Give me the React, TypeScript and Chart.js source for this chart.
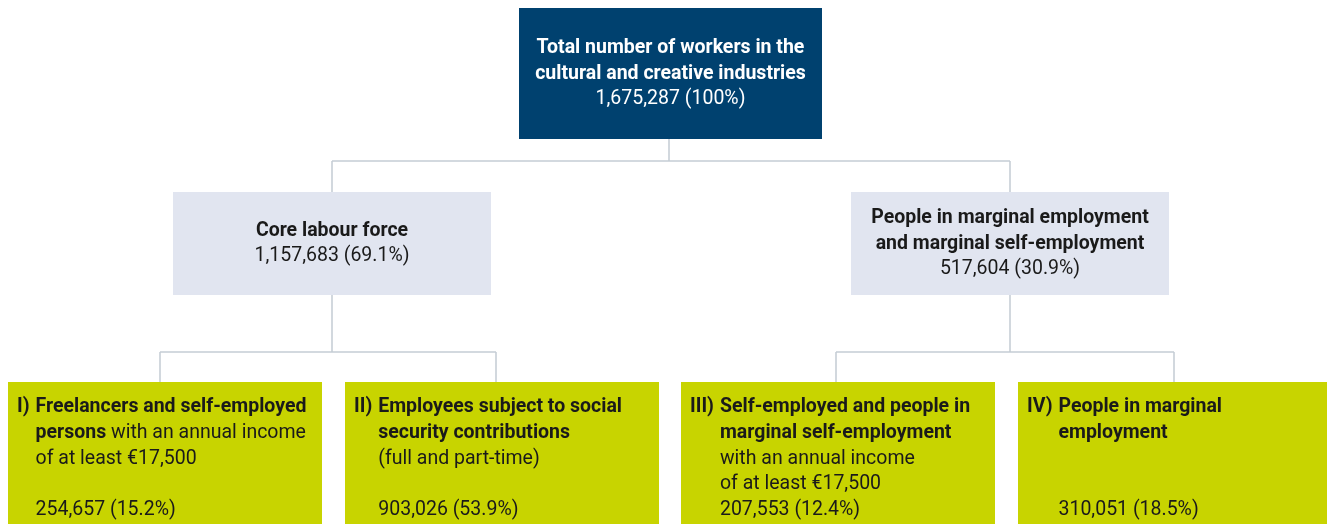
import React, { useEffect, useRef } from "react";
import { Chart, registerables } from "chart.js";

Chart.register(...registerables);

// ---------- data ----------
const totalTitle = ["Total number of workers in the", "cultural and creative industries"];
const totalValue = 1675287;
const totalShare = 100;

const groupTitles = [
  ["Core labour force"],
  ["People in marginal employment", "and marginal self-employment"],
];
const groupValues = [1157683, 517604];
const groupShares = [69.1, 30.9];

const categoryNumerals = ["I)", "II)", "III)", "IV)"];
const categoryTexts = [
  ["**Freelancers and self-employed**", "**persons** with an annual income", "of at least €17,500"],
  ["**Employees subject to social**", "**security contributions**", "(full and part-time)"],
  ["**Self-employed and people in**", "**marginal self-employment**", "with an annual income", "of at least €17,500"],
  ["**People in marginal**", "**employment**"],
];
const categoryValues = [254657, 903026, 207553, 310051];
const categoryShares = [15.2, 53.9, 12.4, 18.5];
const categoryParent = [0, 0, 1, 1];

// ---------- layout (axis units = px of the 1327x524 canvas) ----------
const W = 1327;
const H = 524;
const topBox = { x0: 519, x1: 822, y0: 8, y1: 139, stem: 669 };
const groupBoxes = [
  { x0: 173, x1: 491, stem: 332 },
  { x0: 851, x1: 1169, stem: 1010 },
];
const groupY = [192, 295];
const catBoxes = [
  { x0: 8, x1: 322, stem: 160 },
  { x0: 345, x1: 659, stem: 496 },
  { x0: 681, x1: 995, stem: 836 },
  { x0: 1018, x1: 1332, stem: 1174 },
];
const catY = [382, 540];
const bus1 = 161;
const bus2 = 352;

const C_DARK = "#00416f";
const C_LIGHT = "#e1e5f0";
const C_LIME = "#c8d400";
const C_LINE = "#c4ccd4";
const C_TEXT = "#1a1a1a";
const FONT = "Roboto, 'Noto Sans', sans-serif";
const FS = 19.5;

const fmtVal = (v: number) => v.toLocaleString("en-US");
const fmtShare = (s: number) => (Number.isInteger(s) ? String(s) : s.toFixed(1));
const valueLine = (v: number, s: number) => `${fmtVal(v)} (${fmtShare(s)}%)`;

function rect(x0: number, x1: number, y0: number, y1: number, color: string) {
  return {
    type: "line" as const,
    data: [
      { x: x0, y: y1 },
      { x: x1, y: y1 },
    ],
    fill: { value: y0 },
    backgroundColor: color,
    borderWidth: 0,
    pointRadius: 0,
    tension: 0,
    order: 1,
  };
}
function seg(pts: [number, number][]) {
  return {
    type: "line" as const,
    data: pts.map(([x, y]) => ({ x, y })),
    borderColor: C_LINE,
    borderWidth: 1.5,
    pointRadius: 0,
    fill: false,
    tension: 0,
    order: 2,
  };
}

function parseRich(s: string) {
  const parts: { t: string; b: boolean }[] = [];
  const re = /\*\*(.+?)\*\*/g;
  let last = 0;
  let m;
  while ((m = re.exec(s))) {
    if (m.index > last) parts.push({ t: s.slice(last, m.index), b: false });
    parts.push({ t: m[1], b: true });
    last = m.index + m[0].length;
  }
  if (last < s.length) parts.push({ t: s.slice(last), b: false });
  return parts;
}

const textPlugin = {
  id: "nodeText",
  afterDatasetsDraw(chart: any) {
    const { ctx } = chart;
    const xs = chart.scales.x;
    const ys = chart.scales.y;
    const px = (v: number) => xs.getPixelForValue(v);
    const py = (v: number) => ys.getPixelForValue(v);
    ctx.save();
    ctx.textBaseline = "alphabetic";
    const bold = `bold ${FS}px ${FONT}`;
    const reg = `${FS}px ${FONT}`;
    const LH = 25.5;

    const centred = (lines: { t: string; b: boolean }[], cx: number, cy: number, color: string) => {
      ctx.fillStyle = color;
      ctx.textAlign = "center";
      const first = cy + 5 - ((lines.length - 1) * LH) / 2;
      lines.forEach((l, i) => {
        ctx.font = l.b ? bold : reg;
        ctx.fillText(l.t, px(cx), py(first + i * LH));
      });
    };

    centred(
      [...totalTitle.map((t) => ({ t, b: true })), { t: valueLine(totalValue, totalShare), b: false }],
      (topBox.x0 + topBox.x1) / 2,
      (topBox.y0 + topBox.y1) / 2,
      "#ffffff"
    );
    groupBoxes.forEach((g, i) => {
      centred(
        [...groupTitles[i].map((t) => ({ t, b: true })), { t: valueLine(groupValues[i], groupShares[i]), b: false }],
        (g.x0 + g.x1) / 2,
        (groupY[0] + groupY[1]) / 2,
        C_TEXT
      );
    });

    ctx.textAlign = "left";
    ctx.fillStyle = C_TEXT;
    const LH2 = 25.8;
    catBoxes.forEach((b, i) => {
      const base = catY[0] + 30;
      const nx = b.x0 + 9;
      ctx.font = bold;
      ctx.fillText(categoryNumerals[i], px(nx), py(base));
      const tx = nx + ctx.measureText(categoryNumerals[i]).width + 6;
      categoryTexts[i].forEach((line, li) => {
        let x = px(tx);
        parseRich(line).forEach((p) => {
          ctx.font = p.b ? bold : reg;
          ctx.fillText(p.t, x, py(base + li * LH2));
          x += ctx.measureText(p.t).width;
        });
      });
      ctx.font = reg;
      ctx.fillText(valueLine(categoryValues[i], categoryShares[i]), px(tx), py(base + 4 * LH2));
    });
    ctx.restore();
  },
};

export default function App() {
  const ref = useRef<HTMLCanvasElement>(null);
  useEffect(() => {
    document.body.style.margin = "0";
    const datasets: any[] = [];
    // connectors
    datasets.push(seg([[topBox.stem, topBox.y1], [topBox.stem, bus1]]));
    datasets.push(seg([[groupBoxes[0].stem, bus1], [groupBoxes[1].stem, bus1]]));
    groupBoxes.forEach((g, gi) => {
      datasets.push(seg([[g.stem, bus1], [g.stem, groupY[0]]]));
      datasets.push(seg([[g.stem, groupY[1]], [g.stem, bus2]]));
      const kids = catBoxes.filter((_, ci) => categoryParent[ci] === gi);
      datasets.push(seg([[kids[0].stem, bus2], [kids[kids.length - 1].stem, bus2]]));
      kids.forEach((k) => datasets.push(seg([[k.stem, bus2], [k.stem, catY[0]]])));
    });
    // boxes
    datasets.push(rect(topBox.x0, topBox.x1, topBox.y0, topBox.y1, C_DARK));
    groupBoxes.forEach((g) => datasets.push(rect(g.x0, g.x1, groupY[0], groupY[1], C_LIGHT)));
    catBoxes.forEach((c) => datasets.push(rect(c.x0, c.x1, catY[0], catY[1], C_LIME)));

    const chart = new Chart(ref.current!, {
      type: "line",
      data: { datasets },
      options: {
        animation: false,
        responsive: false,
        events: [],
        layout: { padding: 0 },
        plugins: { legend: { display: false }, tooltip: { enabled: false } },
        scales: {
          x: { type: "linear", min: 0, max: W, display: false },
          y: { type: "linear", min: 0, max: H, reverse: true, display: false },
        },
      },
      plugins: [textPlugin],
    });
    return () => chart.destroy();
  }, []);
  return <canvas ref={ref} width={W} height={H} style={{ display: "block" }} />;
}
